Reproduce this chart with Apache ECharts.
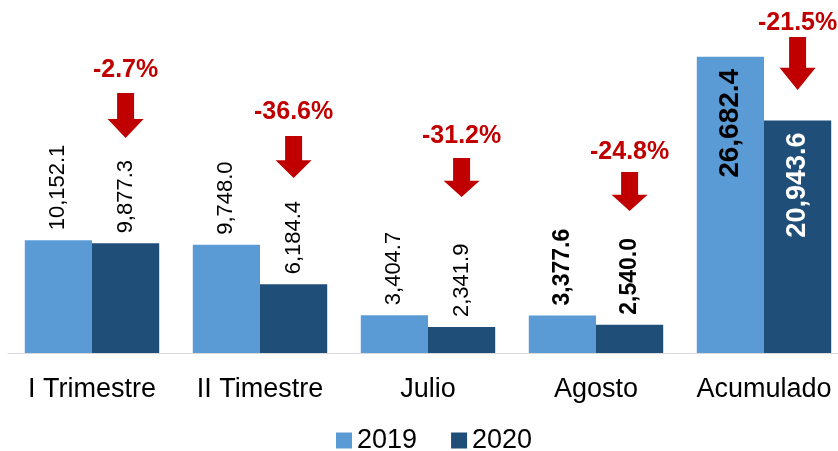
<!DOCTYPE html>
<html>
<head>
<meta charset="utf-8">
<script src="https://cdn.jsdelivr.net/npm/echarts@6/dist/echarts.min.js"></script>
<style>html,body{margin:0;padding:0;background:#fff;overflow:hidden;width:838px;height:451px;}#c{width:848px;height:451px;}</style>
</head>
<body>
<div id="c"></div>
<script>
var categories = ['I Trimestre', 'II Timestre', 'Julio', 'Agosto', 'Acumulado'];
var values2019 = [10152.1, 9748.0, 3404.7, 3377.6, 26682.4];
var values2020 = [9877.3, 6184.4, 2341.9, 2540.0, 20943.6];
var changeLabels = ['-2.7%', '-36.6%', '-31.2%', '-24.8%', '-21.5%'];
// annotation anchor values (data units): label, arrow top, arrow tip
var changeLabelY = [25500, 21700, 19550, 18100, 29700];
var arrowTopY = [23420, 19550, 17570, 16300, 28470];
var arrowTipY = [19370, 15770, 14050, 12790, 23690];

var FONT = '"Liberation Sans", Arial, sans-serif';
var C19 = '#5B9BD5', C20 = '#1F4E79', RED = '#C00000';

function fmt(v) {
  return v.toLocaleString('en-US', {minimumFractionDigits: 1, maximumFractionDigits: 1});
}

function labelFor(i, isFirst) {
  var base = {
    show: true, rotate: 90, position: 'top', align: 'left', verticalAlign: 'middle',
    distance: 10, fontSize: 22, color: '#000', fontFamily: FONT,
    formatter: function (p) { return fmt(p.value); }
  };
  if (categories[i] === 'Agosto') { base.fontWeight = 'bold'; base.fontSize = 23; }
  if (categories[i] === 'Acumulado') {
    base.position = 'insideTop';
    base.align = 'right';
    base.distance = 12;
    base.fontWeight = 'bold';
    base.fontSize = isFirst ? 28 : 27;
    base.color = isFirst ? '#000' : '#fff';
  }
  return base;
}

var d19 = values2019.map(function (v, i) { return {value: v, label: labelFor(i, true)}; });
var d20 = values2020.map(function (v, i) { return {value: v, label: labelFor(i, false)}; });
var annot = categories.map(function (c, i) { return [i, arrowTopY[i], arrowTipY[i], changeLabelY[i]]; });

var chart = echarts.init(document.getElementById('c'));
chart.setOption({
  animation: false,
  textStyle: {fontFamily: FONT},
  grid: {left: 8, right: 0, top: 20, bottom: 98, containLabel: false},
  legend: {
    data: ['2019', '2020'], left: 331, top: 422, icon: 'rect', itemWidth: 16, itemHeight: 16,
    itemGap: 34, textStyle: {fontSize: 27, color: '#000', fontFamily: FONT}
  },
  xAxis: {
    type: 'category', data: categories,
    axisLine: {lineStyle: {color: '#D9D9D9', width: 1}},
    axisTick: {show: false},
    axisLabel: {fontSize: 27, color: '#000', margin: 23, fontFamily: FONT, interval: 0}
  },
  yAxis: {type: 'value', min: 0, max: 30000, show: false, splitLine: {show: false}},
  series: [
    {name: '2019', type: 'bar', data: d19, itemStyle: {color: C19}, barGap: '0%', barCategoryGap: '20%'},
    {name: '2020', type: 'bar', data: d20, itemStyle: {color: C20}},
    {
      type: 'custom', data: annot, z: 10, silent: true,
      renderItem: function (params, api) {
        var idx = api.value(0);
        var band = api.size([1, 0])[0];
        var top = api.coord([idx, api.value(1)]);
        var tip = api.coord([idx, api.value(2)]);
        var lab = api.coord([idx, api.value(3)]);
        var x = top[0] + band * 0.2;
        var h = tip[1] - top[1];
        var hw = 18, sw = 8.5, hl = h * 0.42;
        var y0 = top[1], y1 = tip[1];
        return {
          type: 'group',
          children: [
            {
              type: 'polygon',
              shape: {points: [[x - sw, y0], [x + sw, y0], [x + sw, y1 - hl], [x + hw, y1 - hl], [x, y1], [x - hw, y1 - hl], [x - sw, y1 - hl]]},
              style: {fill: RED}
            },
            {
              type: 'text',
              style: {
                text: changeLabels[params.dataIndex], x: x, y: lab[1],
                align: 'center', verticalAlign: 'middle',
                fill: RED, font: 'bold 25px ' + FONT
              }
            }
          ]
        };
      }
    }
  ]
});
</script>
</body>
</html>
